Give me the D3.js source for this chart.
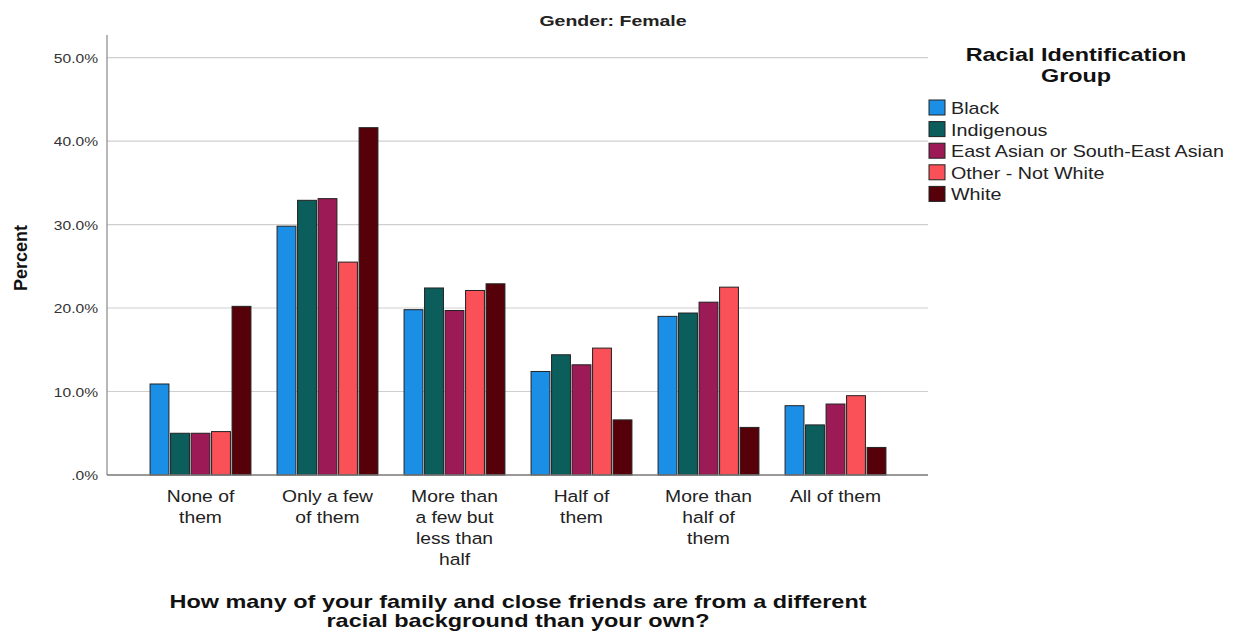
<html>
<head>
<script src="https://cdn.jsdelivr.net/npm/d3@7"></script>
<style>
  body { margin: 0; background: #fff; }
  text { font-family: "Liberation Sans", Arial, sans-serif; }
</style>
</head>
<body>
<script>
// categories and series
var categories = ["None of them", "Only a few of them", "More than a few but less than half",
  "Half of them", "More than half of them", "All of them"];
var catLines = [["None of", "them"], ["Only a few", "of them"], ["More than", "a few but", "less than", "half"],
  ["Half of", "them"], ["More than", "half of", "them"], ["All of them"]];
var groups = ["Black", "Indigenous", "East Asian or South-East Asian", "Other - Not White", "White"];
var colors = ["#1b8ee6", "#0b5e5b", "#9c1a55", "#fa5058", "#56000a"];

var black      = [10.9, 29.8, 19.8, 12.4, 19.0, 8.3];
var indigenous = [5.0, 32.9, 22.4, 14.4, 19.4, 6.0];
var eastAsian  = [5.0, 33.1, 19.7, 13.2, 20.7, 8.5];
var otherNW    = [5.2, 25.5, 22.1, 15.2, 22.5, 9.5];
var white      = [20.2, 41.6, 22.9, 6.6, 5.7, 3.3];
var series = [black, indigenous, eastAsian, otherNW, white];

var yTicks = [0, 10, 20, 30, 40, 50];

var width = 1233, height = 632;
var svg = d3.select("body").append("svg")
  .attr("width", width).attr("height", height);

var pLeft = 107, pRight = 928, pTop = 35, pBottom = 475;

var y = d3.scaleLinear().domain([0, 52.7]).range([pBottom, pTop]);
var x0 = d3.scaleBand().domain(categories).range([137, 899]).paddingInner(0.18).paddingOuter(0.09);
var x1 = d3.scaleBand().domain(groups).range([0, x0.bandwidth()]).padding(0.08);

// text that is a bit wider than the font (the source picture is stretched)
function wideText(parent, x, yy, txt, size, sx, anchor, weight, fill) {
  return parent.append("text")
    .attr("transform", "translate(" + x + "," + yy + ") scale(" + sx + ",1)")
    .attr("text-anchor", anchor || "start")
    .attr("font-size", size)
    .attr("font-weight", weight || "normal")
    .attr("fill", fill || "#222")
    .text(txt);
}

// gridlines
svg.append("g").selectAll("line").data(yTicks.slice(1)).enter().append("line")
  .attr("x1", pLeft).attr("x2", pRight)
  .attr("y1", function(d){ return y(d); }).attr("y2", function(d){ return y(d); })
  .attr("stroke", "#cfcfcf").attr("stroke-width", 1.2);

// y tick labels
var yl = svg.append("g");
yTicks.forEach(function(t){
  wideText(yl, 98, y(t) + 5, t === 0 ? ".0%" : d3.format(".1f")(t) + "%", 13, 1.2, "end", "normal", "#333");
});
svg.append("line").attr("x1", pLeft).attr("x2", pLeft).attr("y1", pTop).attr("y2", pBottom)
  .attr("stroke", "#888").attr("stroke-width", 1.2);

// bars
var cat = svg.append("g").selectAll("g").data(categories).enter().append("g")
  .attr("transform", function(d){ return "translate(" + x0(d) + ",0)"; });
cat.selectAll("rect").data(function(d, i){
    return groups.map(function(g, j){ return {g: g, j: j, v: series[j][i]}; });
  }).enter().append("rect")
  .attr("x", function(d){ return x1(d.g); })
  .attr("width", x1.bandwidth())
  .attr("y", function(d){ return y(d.v); })
  .attr("height", function(d){ return pBottom - y(d.v); })
  .attr("fill", function(d){ return colors[d.j]; })
  .attr("stroke", "#222").attr("stroke-width", 1);

// x baseline
svg.append("line").attr("x1", pLeft).attr("x2", pRight).attr("y1", pBottom).attr("y2", pBottom)
  .attr("stroke", "#777").attr("stroke-width", 1.5);

// x labels
var xl = svg.append("g");
categories.forEach(function(c, i){
  catLines[i].forEach(function(line, k){
    wideText(xl, x0(c) + x0.bandwidth() / 2, 502 + k * 21, line, 16.5, 1.17, "middle", "normal", "#222");
  });
});

// title
wideText(svg, 613, 26, "Gender: Female", 15, 1.3, "middle", "bold", "#222");

// y title
svg.append("text").attr("transform", "translate(27,258) rotate(-90)").attr("text-anchor", "middle")
  .attr("font-size", 18).attr("font-weight", "bold").attr("fill", "#111").text("Percent");

// x title
wideText(svg, 518, 608, "How many of your family and close friends are from a different", 17.5, 1.34, "middle", "bold", "#111");
wideText(svg, 518, 627, "racial background than your own?", 17.5, 1.34, "middle", "bold", "#111");

// legend
var lg = svg.append("g");
wideText(lg, 1076, 61, "Racial Identification", 19, 1.23, "middle", "bold", "#111");
wideText(lg, 1076, 82, "Group", 19, 1.23, "middle", "bold", "#111");
var li = lg.selectAll("g.item").data(groups).enter().append("g")
  .attr("transform", function(d, i){ return "translate(929," + (100 + i * 21.6) + ")"; });
li.append("rect").attr("width", 16).attr("height", 15)
  .attr("fill", function(d, i){ return colors[i]; }).attr("stroke", "#222");
li.each(function(d){
  wideText(d3.select(this), 22, 14, d, 17, 1.16, "start", "normal", "#222");
});
</script>
</body>
</html>
